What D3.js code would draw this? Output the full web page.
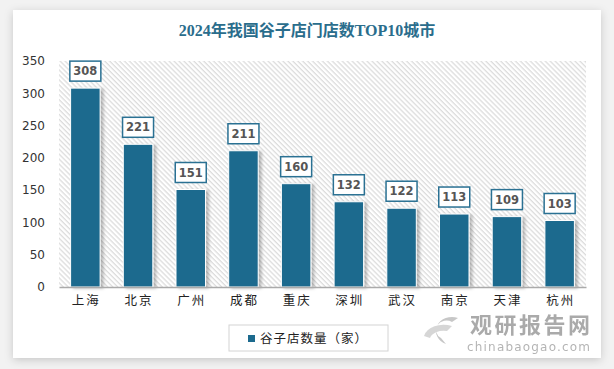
<!DOCTYPE html>
<html>
<head>
<meta charset="utf-8">
<script src="https://cdn.jsdelivr.net/npm/d3@7"></script>
<style>
  body { margin: 0; background: #f2f2f2; }
  svg { display: block; }
</style>
</head>
<body>
<div id="chart"></div>
<script>
// data
const cities = ["上海", "北京", "广州", "成都", "重庆", "深圳", "武汉", "南京", "天津", "杭州"];
const stores = [308, 221, 151, 211, 160, 132, 122, 113, 109, 103];
const yTicks = [0, 50, 100, 150, 200, 250, 300, 350];
const title = "2024年我国谷子店门店数TOP10城市";
const seriesName = "谷子店数量（家）";

const W = 614, H = 369;
const barColor = "#1c6a8e";
const cjk = "'Noto Sans CJK SC', 'Noto Sans', sans-serif";

const svg = d3.select("#chart").append("svg")
    .attr("width", W)
    .attr("height", H);

const defs = svg.append("defs");

// card shadow
const f = defs.append("filter").attr("id", "shadow").attr("x", "-10%").attr("y", "-10%").attr("width", "120%").attr("height", "120%");
f.append("feDropShadow").attr("dx", 0).attr("dy", 2).attr("stdDeviation", 4).attr("flood-color", "#000").attr("flood-opacity", 0.18);

const bs = defs.append("filter").attr("id", "barShadow").attr("x", "-20%").attr("y", "-10%").attr("width", "150%").attr("height", "120%");
bs.append("feDropShadow").attr("dx", 3).attr("dy", 1).attr("stdDeviation", 1.5).attr("flood-color", "#000").attr("flood-opacity", 0.25);

// hatch pattern, lines running top-left to bottom-right
const pat = defs.append("pattern").attr("id", "hatch")
    .attr("patternUnits", "userSpaceOnUse")
    .attr("width", 3.5).attr("height", 3.5)
    .attr("patternTransform", "rotate(45)");
pat.append("rect").attr("width", 3.5).attr("height", 3.5).attr("fill", "#fff");
pat.append("rect").attr("width", 3.5).attr("height", 1.3).attr("fill", "#dcdcdc");

// card
svg.append("rect")
    .attr("x", 13).attr("y", 10)
    .attr("width", 588).attr("height", 348)
    .attr("fill", "#fff")
    .attr("filter", "url(#shadow)");

// title
svg.append("text")
    .attr("x", 307).attr("y", 36)
    .attr("text-anchor", "middle")
    .attr("font-family", "'Liberation Serif', 'Noto Sans CJK SC', serif")
    .attr("font-weight", "bold")
    .attr("font-size", 16)
    .attr("fill", "#2a6d8c")
    .text(title);

const m = { left: 59, right: 586, top: 61, bottom: 287 };

const x = d3.scaleBand()
    .domain(cities)
    .range([m.left, m.right])
    .paddingInner(0.44)
    .paddingOuter(0.22);

const y = d3.scaleLinear()
    .domain([0, 350])
    .range([m.bottom, m.top]);

// plot background
svg.append("rect")
    .attr("x", m.left).attr("y", m.top)
    .attr("width", m.right - m.left).attr("height", m.bottom - m.top)
    .attr("fill", "url(#hatch)");

// y axis
const yAxis = svg.append("g")
    .attr("transform", `translate(${m.left},0)`)
    .call(d3.axisLeft(y).tickValues(yTicks).tickSize(0).tickPadding(14));
yAxis.select(".domain").remove();
yAxis.selectAll("text")
    .attr("font-family", "'DejaVu Sans', sans-serif")
    .attr("font-size", 12)
    .attr("fill", "#333");

// bars
const data = cities.map((c, i) => ({ city: c, value: stores[i] }));

svg.append("g").selectAll("rect")
    .data(data)
    .join("rect")
    .attr("x", d => x(d.city))
    .attr("y", d => y(d.value))
    .attr("width", x.bandwidth())
    .attr("height", d => y(0) - y(d.value))
    .attr("fill", barColor)
    .attr("stroke", "#fff")
    .attr("stroke-width", 1)
    .attr("filter", "url(#barShadow)");

// x axis
const xAxis = svg.append("g")
    .attr("transform", `translate(0,${m.bottom})`)
    .call(d3.axisBottom(x).tickSize(0).tickPadding(9));
xAxis.select(".domain").attr("stroke", "#aaa").attr("stroke-width", 1.5);
xAxis.selectAll("text")
    .attr("font-family", cjk)
    .attr("font-size", 12.5)
    .attr("letter-spacing", 2)
    .attr("dx", 1)
    .attr("fill", "#222");

// value labels
const lab = svg.append("g").selectAll("g")
    .data(data)
    .join("g")
    .attr("transform", d => `translate(${x(d.city) + x.bandwidth() / 2},${y(d.value) - 17})`);
lab.append("rect")
    .attr("x", -15.5).attr("y", -10)
    .attr("width", 31).attr("height", 20)
    .attr("fill", "#fff")
    .attr("stroke", "#2a7193")
    .attr("stroke-width", 1.5);
lab.append("text")
    .attr("text-anchor", "middle")
    .attr("dy", "0.36em")
    .attr("font-family", "'DejaVu Sans', sans-serif")
    .attr("font-weight", "bold")
    .attr("font-size", 11.5)
    .attr("fill", "#555")
    .text(d => d.value);

// legend
const lg = svg.append("g").attr("transform", "translate(229,325)");
lg.append("rect")
    .attr("width", 159).attr("height", 26)
    .attr("fill", "#fff")
    .attr("stroke", "#d4d4d4");
lg.append("rect")
    .attr("x", 19).attr("y", 10)
    .attr("width", 7).attr("height", 7)
    .attr("fill", barColor);
lg.append("text")
    .attr("x", 31).attr("y", 18)
    .attr("font-family", cjk)
    .attr("font-size", 12.5)
    .attr("letter-spacing", 1)
    .attr("fill", "#222")
    .text(seriesName);

// watermark
const wm = svg.append("g").attr("opacity", 0.55);
wm.append("path")
    .attr("d", "M458,318 A16,14 0 1,0 446,344 L441,338 A10,9 0 1,1 452,322 Z")
    .attr("fill", "#9a9a9a");
wm.append("path")
    .attr("d", "M424,336 A20,14 0 0,1 452,326 L447,331 A14,9 0 0,0 430,338 Z")
    .attr("fill", "#b5b5b5");
wm.append("text")
    .attr("x", 470).attr("y", 333)
    .attr("font-family", cjk)
    .attr("font-weight", "bold")
    .attr("font-size", 22)
    .attr("textLength", 120)
    .attr("fill", "#666")
    .text("观研报告网");
wm.append("text")
    .attr("x", 467).attr("y", 351)
    .attr("font-family", "'DejaVu Sans', sans-serif")
    .attr("font-size", 12)
    .attr("textLength", 123)
    .attr("fill", "#777")
    .text("chinabaogao.com");
</script>
</body>
</html>
